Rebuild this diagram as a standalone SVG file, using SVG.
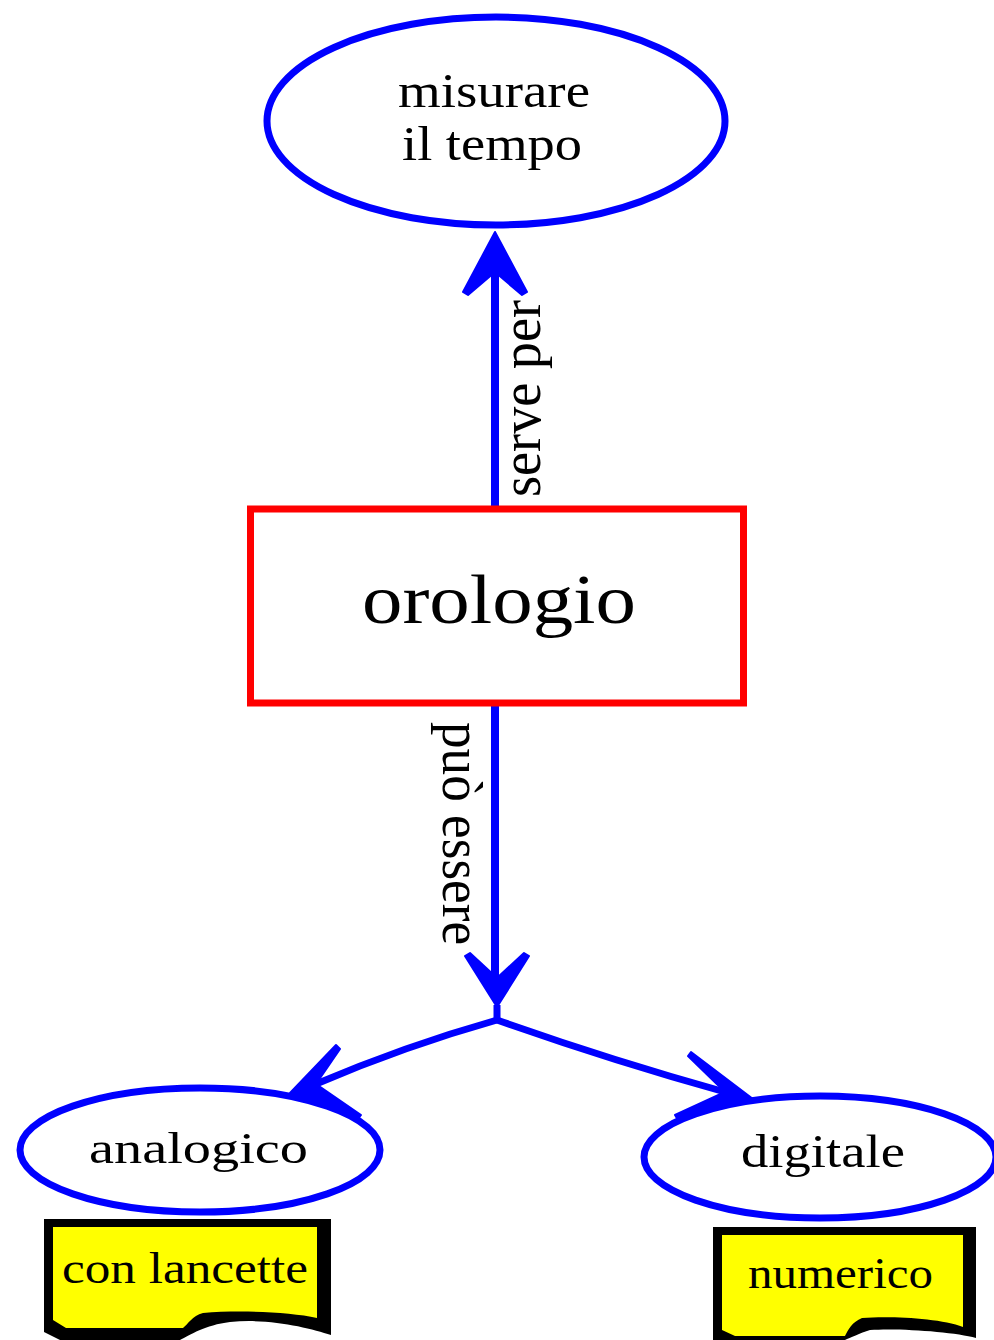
<svg xmlns="http://www.w3.org/2000/svg" width="994" height="1340" viewBox="0 0 994 1340">
<style>
.ell{fill:#fff;stroke:#0000ff;stroke-width:7}
.con{fill:none;stroke:#0000ff;stroke-width:8}
.br{fill:none;stroke:#0000ff;stroke-width:7}
.ah{fill:#0000ff;stroke:#0000ff;stroke-width:2;stroke-linejoin:round}
.t{font-family:"Liberation Serif","Times New Roman",serif;fill:#000}
</style>
<rect width="994" height="1340" fill="#fff"/>
<g id="connectors">
<line class="con" x1="495" y1="262" x2="495" y2="508"/>
<polygon class="ah" points="495,232 527,292 522,295 495,272 468,295 463,292"/>
<line class="con" x1="495" y1="705" x2="495" y2="980"/>
<polygon class="ah" points="497,1007 465,956 470,953 497,978 524,953 529,956"/>
<line class="br" x1="497" y1="1005" x2="497" y2="1020"/>
<path class="br" d="M497,1020 Q405,1046 316,1084"/>
<polygon class="ah" points="290,1093 336,1045 340,1049 316,1084 361,1115 358,1119"/>
<path class="br" d="M497,1020 Q610,1060 725,1092"/>
<polygon class="ah" points="753,1099 691,1052 688,1056 725,1092 675,1115 678,1120"/>
<text class="t" transform="translate(540,497) rotate(-90)" font-size="56" textLength="197" lengthAdjust="spacingAndGlyphs">serve per</text>
<text class="t" transform="translate(443,722) rotate(90)" font-size="58" textLength="223" lengthAdjust="spacingAndGlyphs">può essere</text>
</g>
<g id="node-misurare">
<ellipse class="ell" cx="496" cy="121" rx="229" ry="104"/>
<text class="t" x="398" y="107" font-size="48" textLength="192" lengthAdjust="spacingAndGlyphs">misurare</text>
<text class="t" x="402" y="160" font-size="48" textLength="180" lengthAdjust="spacingAndGlyphs">il tempo</text>
</g>
<g id="node-orologio">
<rect x="250.5" y="509" width="493" height="194" fill="#fff" stroke="#ff0000" stroke-width="7"/>
<text class="t" x="362" y="623" font-size="70" textLength="274" lengthAdjust="spacingAndGlyphs">orologio</text>
</g>
<g id="node-analogico">
<ellipse class="ell" cx="200" cy="1150" rx="180" ry="62"/>
<text class="t" x="89" y="1163" font-size="45" textLength="219" lengthAdjust="spacingAndGlyphs">analogico</text>
</g>
<g id="node-digitale">
<ellipse class="ell" cx="820" cy="1157" rx="176" ry="61"/>
<text class="t" x="741" y="1167" font-size="46" textLength="164" lengthAdjust="spacingAndGlyphs">digitale</text>
</g>
<g id="note-lancette">
<path fill="#000" d="M44 1219 H331 V1335 C310 1328 270 1318 230 1322 C205 1325 190 1335 180 1340 H60 L44 1332 Z"/>
<path fill="#ffff00" d="M53 1227 H317 V1318 C290 1312 240 1310 203 1313 C192 1316 188 1324 183 1328 H66 L53 1320 Z"/>
<text class="t" x="62" y="1283" font-size="44" textLength="246" lengthAdjust="spacingAndGlyphs">con lancette</text>
</g>
<g id="note-numerico">
<path fill="#000" d="M713 1227 H976 V1338 C955 1332 900 1328 870 1330 C860 1333 850 1338 845 1340 H713 Z"/>
<path fill="#ffff00" d="M722 1235 H963 V1327 C940 1318 890 1316 862 1318 C852 1322 848 1330 845 1336 H735 L722 1330 Z"/>
<text class="t" x="748" y="1288" font-size="45" textLength="185" lengthAdjust="spacingAndGlyphs">numerico</text>
</g>
</svg>
